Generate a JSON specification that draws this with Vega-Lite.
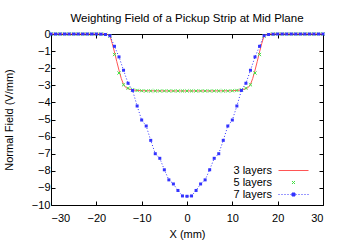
{
  "$schema": "https://vega.github.io/schema/vega-lite/v6.json",
  "width": 272,
  "height": 171,
  "autosize": {"type": "none"},
  "padding": {"left": 51, "top": 34, "right": 20, "bottom": 35},
  "background": "white",
  "config": {
    "font": "Liberation Sans",
    "view": {"stroke": "black", "strokeWidth": 1},
    "axis": {"labelFont": "Liberation Sans", "labelFontSize": 11, "labelColor": "black", "titleFont": "Liberation Sans", "titleFontSize": 11, "titleFontWeight": "normal", "titleColor": "black", "grid": false, "domain": false, "tickColor": "black", "tickSize": -4, "minExtent": 0}
  },
  "title": {"text": "Weighting Field of a Pickup Strip at Mid Plane", "fontSize": 11.5, "fontWeight": "normal", "font": "Liberation Sans", "color": "black", "baseline": "bottom", "offset": 11, "dy": 18, "anchor": "middle", "frame": "group"},
  "resolve": {"axis": {"x": "independent", "y": "independent"}},
  "data": {"values": [
    {"x": -30, "E": 0, "series": "3 layers"}, {"x": -25, "E": 0, "series": "3 layers"}, {"x": -20, "E": 0, "series": "3 layers"}, {"x": -18, "E": 0, "series": "3 layers"},
    {"x": -17.5, "E": -0.03, "series": "3 layers"}, {"x": -17, "E": -0.1, "series": "3 layers"}, {"x": -16.5, "E": -0.55, "series": "3 layers"}, {"x": -16, "E": -1.05, "series": "3 layers"},
    {"x": -15.5, "E": -1.6, "series": "3 layers"}, {"x": -15, "E": -2.12, "series": "3 layers"}, {"x": -14.5, "E": -2.6, "series": "3 layers"}, {"x": -14, "E": -2.95, "series": "3 layers"},
    {"x": -13.5, "E": -3.13, "series": "3 layers"}, {"x": -13, "E": -3.2, "series": "3 layers"}, {"x": -12, "E": -3.27, "series": "3 layers"}, {"x": -11, "E": -3.3, "series": "3 layers"},
    {"x": -10, "E": -3.32, "series": "3 layers"}, {"x": -5, "E": -3.33, "series": "3 layers"}, {"x": 0, "E": -3.33, "series": "3 layers"}, {"x": 5, "E": -3.33, "series": "3 layers"},
    {"x": 10, "E": -3.32, "series": "3 layers"}, {"x": 11, "E": -3.3, "series": "3 layers"}, {"x": 12, "E": -3.27, "series": "3 layers"}, {"x": 13, "E": -3.2, "series": "3 layers"},
    {"x": 13.5, "E": -3.13, "series": "3 layers"}, {"x": 14, "E": -2.95, "series": "3 layers"}, {"x": 14.5, "E": -2.6, "series": "3 layers"}, {"x": 15, "E": -2.12, "series": "3 layers"},
    {"x": 15.5, "E": -1.6, "series": "3 layers"}, {"x": 16, "E": -1.05, "series": "3 layers"}, {"x": 16.5, "E": -0.55, "series": "3 layers"}, {"x": 17, "E": -0.1, "series": "3 layers"},
    {"x": 17.5, "E": -0.03, "series": "3 layers"}, {"x": 18, "E": 0, "series": "3 layers"}, {"x": 20, "E": 0, "series": "3 layers"}, {"x": 25, "E": 0, "series": "3 layers"}, {"x": 30, "E": 0, "series": "3 layers"},

    {"x": -30, "E": 0, "series": "5 layers"}, {"x": -29, "E": 0, "series": "5 layers"}, {"x": -28, "E": 0, "series": "5 layers"}, {"x": -27, "E": 0, "series": "5 layers"},
    {"x": -26, "E": 0, "series": "5 layers"}, {"x": -25, "E": 0, "series": "5 layers"}, {"x": -24, "E": 0, "series": "5 layers"}, {"x": -23, "E": 0, "series": "5 layers"},
    {"x": -22, "E": 0, "series": "5 layers"}, {"x": -21, "E": 0, "series": "5 layers"}, {"x": -20, "E": 0, "series": "5 layers"}, {"x": -19, "E": 0, "series": "5 layers"},
    {"x": -18, "E": -0.02, "series": "5 layers"}, {"x": -17, "E": -0.12, "series": "5 layers"}, {"x": -16, "E": -1.2, "series": "5 layers"}, {"x": -15, "E": -2.28, "series": "5 layers"},
    {"x": -14, "E": -2.97, "series": "5 layers"}, {"x": -13, "E": -3.17, "series": "5 layers"}, {"x": -12, "E": -3.26, "series": "5 layers"}, {"x": -11, "E": -3.3, "series": "5 layers"},
    {"x": -10, "E": -3.32, "series": "5 layers"}, {"x": -9, "E": -3.33, "series": "5 layers"}, {"x": -8, "E": -3.33, "series": "5 layers"}, {"x": -7, "E": -3.33, "series": "5 layers"},
    {"x": -6, "E": -3.33, "series": "5 layers"}, {"x": -5, "E": -3.33, "series": "5 layers"}, {"x": -4, "E": -3.33, "series": "5 layers"}, {"x": -3, "E": -3.33, "series": "5 layers"},
    {"x": -2, "E": -3.33, "series": "5 layers"}, {"x": -1, "E": -3.33, "series": "5 layers"}, {"x": 0, "E": -3.33, "series": "5 layers"}, {"x": 1, "E": -3.33, "series": "5 layers"},
    {"x": 2, "E": -3.33, "series": "5 layers"}, {"x": 3, "E": -3.33, "series": "5 layers"}, {"x": 4, "E": -3.33, "series": "5 layers"}, {"x": 5, "E": -3.33, "series": "5 layers"},
    {"x": 6, "E": -3.33, "series": "5 layers"}, {"x": 7, "E": -3.33, "series": "5 layers"}, {"x": 8, "E": -3.33, "series": "5 layers"}, {"x": 9, "E": -3.33, "series": "5 layers"},
    {"x": 10, "E": -3.32, "series": "5 layers"}, {"x": 11, "E": -3.3, "series": "5 layers"}, {"x": 12, "E": -3.26, "series": "5 layers"}, {"x": 13, "E": -3.17, "series": "5 layers"},
    {"x": 14, "E": -2.97, "series": "5 layers"}, {"x": 15, "E": -2.28, "series": "5 layers"}, {"x": 16, "E": -1.2, "series": "5 layers"}, {"x": 17, "E": -0.12, "series": "5 layers"},
    {"x": 18, "E": -0.02, "series": "5 layers"}, {"x": 19, "E": 0, "series": "5 layers"}, {"x": 20, "E": 0, "series": "5 layers"}, {"x": 21, "E": 0, "series": "5 layers"},
    {"x": 22, "E": 0, "series": "5 layers"}, {"x": 23, "E": 0, "series": "5 layers"}, {"x": 24, "E": 0, "series": "5 layers"}, {"x": 25, "E": 0, "series": "5 layers"},
    {"x": 26, "E": 0, "series": "5 layers"}, {"x": 27, "E": 0, "series": "5 layers"}, {"x": 28, "E": 0, "series": "5 layers"}, {"x": 29, "E": 0, "series": "5 layers"}, {"x": 30, "E": 0, "series": "5 layers"},

    {"x": -30, "E": 0, "series": "7 layers"}, {"x": -29, "E": 0, "series": "7 layers"}, {"x": -28, "E": 0, "series": "7 layers"}, {"x": -27, "E": 0, "series": "7 layers"},
    {"x": -26, "E": 0, "series": "7 layers"}, {"x": -25, "E": 0, "series": "7 layers"}, {"x": -24, "E": 0, "series": "7 layers"}, {"x": -23, "E": 0, "series": "7 layers"},
    {"x": -22, "E": 0, "series": "7 layers"}, {"x": -21, "E": 0, "series": "7 layers"}, {"x": -20, "E": 0, "series": "7 layers"}, {"x": -19, "E": -0.01, "series": "7 layers"},
    {"x": -18, "E": -0.03, "series": "7 layers"}, {"x": -17, "E": -0.1, "series": "7 layers"}, {"x": -16, "E": -0.72, "series": "7 layers"}, {"x": -15, "E": -1.34, "series": "7 layers"},
    {"x": -14, "E": -2.12, "series": "7 layers"}, {"x": -13, "E": -2.88, "series": "7 layers"}, {"x": -12, "E": -3.3, "series": "7 layers"}, {"x": -11, "E": -4.21, "series": "7 layers"},
    {"x": -10, "E": -5.03, "series": "7 layers"}, {"x": -9, "E": -5.38, "series": "7 layers"}, {"x": -8, "E": -6.22, "series": "7 layers"}, {"x": -7, "E": -7.0, "series": "7 layers"},
    {"x": -6, "E": -7.27, "series": "7 layers"}, {"x": -5, "E": -7.94, "series": "7 layers"}, {"x": -4, "E": -8.53, "series": "7 layers"}, {"x": -3, "E": -8.77, "series": "7 layers"},
    {"x": -2, "E": -9.15, "series": "7 layers"}, {"x": -1, "E": -9.47, "series": "7 layers"}, {"x": 0, "E": -9.49, "series": "7 layers"}, {"x": 1, "E": -9.47, "series": "7 layers"},
    {"x": 2, "E": -9.15, "series": "7 layers"}, {"x": 3, "E": -8.77, "series": "7 layers"}, {"x": 4, "E": -8.53, "series": "7 layers"}, {"x": 5, "E": -7.94, "series": "7 layers"},
    {"x": 6, "E": -7.27, "series": "7 layers"}, {"x": 7, "E": -7.0, "series": "7 layers"}, {"x": 8, "E": -6.22, "series": "7 layers"}, {"x": 9, "E": -5.38, "series": "7 layers"},
    {"x": 10, "E": -5.03, "series": "7 layers"}, {"x": 11, "E": -4.21, "series": "7 layers"}, {"x": 12, "E": -3.3, "series": "7 layers"}, {"x": 13, "E": -2.88, "series": "7 layers"},
    {"x": 14, "E": -2.12, "series": "7 layers"}, {"x": 15, "E": -1.34, "series": "7 layers"}, {"x": 16, "E": -0.72, "series": "7 layers"}, {"x": 17, "E": -0.1, "series": "7 layers"},
    {"x": 18, "E": -0.03, "series": "7 layers"}, {"x": 19, "E": -0.01, "series": "7 layers"}, {"x": 20, "E": 0, "series": "7 layers"}, {"x": 21, "E": 0, "series": "7 layers"},
    {"x": 22, "E": 0, "series": "7 layers"}, {"x": 23, "E": 0, "series": "7 layers"}, {"x": 24, "E": 0, "series": "7 layers"}, {"x": 25, "E": 0, "series": "7 layers"},
    {"x": 26, "E": 0, "series": "7 layers"}, {"x": 27, "E": 0, "series": "7 layers"}, {"x": 28, "E": 0, "series": "7 layers"}, {"x": 29, "E": 0, "series": "7 layers"}, {"x": 30, "E": 0, "series": "7 layers"}
  ]},
  "encoding": {
    "x": {"field": "x", "type": "quantitative", "scale": {"domain": [-30, 30], "nice": false, "zero": false}, "axis": null},
    "y": {"field": "E", "type": "quantitative", "scale": {"domain": [-10, 0], "nice": false}, "axis": null},
    "color": {"field": "series", "type": "nominal",
      "scale": {"domain": ["3 layers", "5 layers", "7 layers"], "range": ["#ff5555", "#44e044", "#3333ff"]},
      "legend": {"title": null, "orient": "none", "legendX": 237, "legendY": 131, "labelFont": "Liberation Sans", "labelFontSize": 11, "labelColor": "black",
        "labelAlign": "right", "labelOffset": -27, "symbolSize": 100, "symbolStrokeWidth": 1, "rowPadding": 0, "padding": 0,
        "encode": {"symbols": {"update": {
          "shape": {"signal": "datum.value === '3 layers' ? 'M-3,0H3' : datum.value === '5 layers' ? 'M-0.3,-0.3L0.3,0.3M-0.3,0.3L0.3,-0.3' : 'M-3,0H-2.8M-2.4,0H-2.2M-1.8,0H-1.6M-1.2,0H-1M-0.6,0H-0.4M0.4,0H0.6M1,0H1.2M1.6,0H1.8M2.2,0H2.4M2.8,0H3M-0.3,-0.3H0.3V0.3H-0.3Z'"},
          "stroke": {"signal": "datum.value === '7 layers' ? '#6666ff' : scale('color', datum.value)"},
          "fill": {"signal": "datum.value === '7 layers' ? '#3333ff' : 'transparent'"},
          "strokeWidth": {"value": 1},
          "opacity": {"value": 1}
        }}}}
    }
  },
  "layer": [
    {"transform": [{"filter": "datum.series === '3 layers'"}], "mark": {"type": "line", "strokeWidth": 1},
      "encoding": {
        "x": {"field": "x", "type": "quantitative", "axis": {"orient": "bottom", "title": "X (mm)", "values": [-30, -20, -10, 0, 10, 20, 30], "labelPadding": 11, "titlePadding": 5}},
        "y": {"field": "E", "type": "quantitative", "axis": {"orient": "left", "title": "Normal Field (V/mm)", "values": [-10, -9, -8, -7, -6, -5, -4, -3, -2, -1, 0], "labelPadding": 5, "titlePadding": 17}}
      }
    },
    {"transform": [{"filter": "datum.series === '5 layers'"}], "mark": {"type": "point", "shape": "M-1,-1L1,1M-1,1L1,-1", "size": 10, "filled": false, "strokeWidth": 1, "opacity": 1}},
    {"transform": [{"filter": "datum.series === '7 layers'"}], "mark": {"type": "line", "strokeWidth": 1, "strokeDash": [1, 2], "color": "#6666ff"}},
    {"transform": [{"filter": "datum.series === '7 layers'"}], "mark": {"type": "point", "shape": "square", "size": 9, "filled": true, "opacity": 1},
      "encoding": {
        "x": {"field": "x", "type": "quantitative", "axis": {"orient": "top", "labels": false, "title": null, "values": [-30, -20, -10, 0, 10, 20, 30]}},
        "y": {"field": "E", "type": "quantitative", "axis": {"orient": "right", "labels": false, "title": null, "values": [-10, -9, -8, -7, -6, -5, -4, -3, -2, -1, 0]}}
      }
    }
  ]
}
